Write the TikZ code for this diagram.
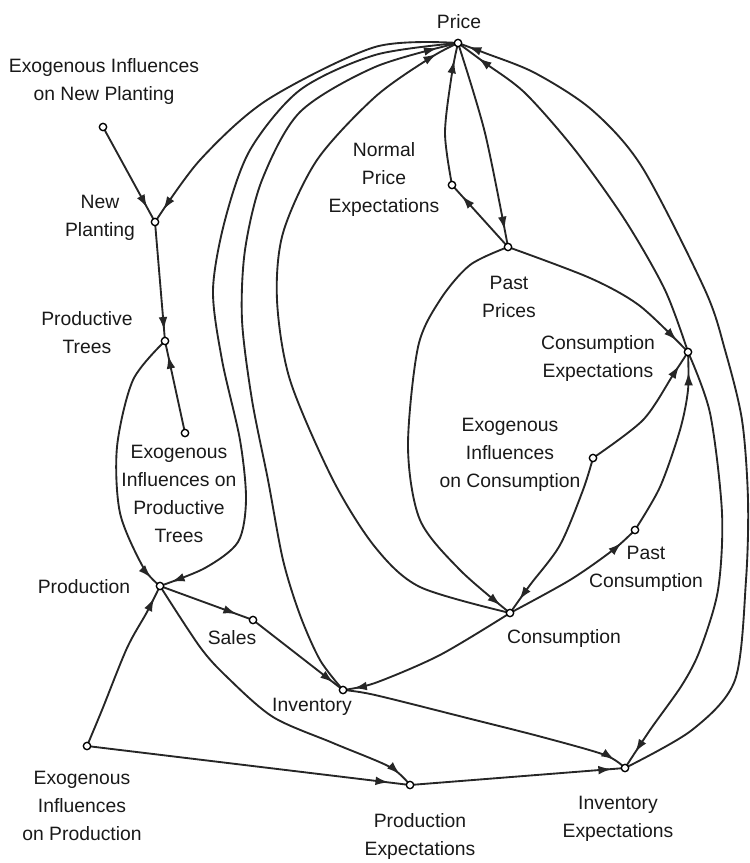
\documentclass[tikz,border=0pt]{standalone}
\usepackage{fontspec}
\setmainfont{Liberation Sans}
\usetikzlibrary{arrows.meta,decorations.markings}
\begin{document}
\begin{tikzpicture}[x=0.75pt,y=-0.75pt,
  edge/.style={line width=1.4pt, black!85},
  arr/.style={postaction={decorate}, decoration={markings, mark=at position #1 with {\arrow{Latex[length=10pt,width=6.5pt]}}}},
  dot/.style={circle, draw, line width=1pt, fill=white, inner sep=0pt, minimum size=5.5pt},
  lbl/.style={font=\fontsize{14.5}{21}\selectfont, align=center, inner sep=0pt, text=black!90},
]
\useasboundingbox (0,0) rectangle (749,863);

% positions of the variables
\coordinate (price) at (458,43);
\coordinate (exonp) at (103,127);
\coordinate (np) at (155,222);
\coordinate (pt) at (165,341);
\coordinate (exopt) at (185,433);
\coordinate (prod) at (160,586);
\coordinate (sales) at (253,620);
\coordinate (inv) at (343,690);
\coordinate (exoprod) at (87,746);
\coordinate (pe) at (410,785);
\coordinate (ie) at (625,768);
\coordinate (cons) at (510,613);
\coordinate (pc) at (635,530);
\coordinate (exocons) at (593,458);
\coordinate (ce) at (688,352);
\coordinate (pp) at (508,247);
\coordinate (npe) at (452,185);

% left part
\draw[edge,arr=-12pt] (exonp) -- (np);
\draw[edge,arr=-11pt] plot[smooth] coordinates {(price) (375,47) (267,100) (200,160) (np)};
\draw[edge,arr=-8pt] (np) -- (pt);
\draw[edge,arr=-11pt] (exopt) -- (pt);
\draw[edge,arr=-9pt] plot[smooth] coordinates {(pt) (133,380) (117,447) (120,513) (143,567) (prod)};
\draw[edge,arr=-9pt] plot[smooth] coordinates {(price) (375,55) (300,90) (250,150) (225,220) (213,290) (222,360) (240,440) (246,500) (238,542) (205,568) (prod)};
\draw[edge,arr=-16pt] plot[smooth] coordinates {(inv) (320,660) (300,615) (283,560) (268,480) (252,400) (242,320) (245,250) (262,180) (300,112) (375,67) (price)};
\draw[edge,arr=-18pt] plot[smooth] coordinates {(cons) (420,587) (375,547) (333,480) (290,380) (277,300) (283,233) (317,160) (375,97) (430,58) (price)};
\draw[edge,arr=-10pt] plot[smooth] coordinates {(exoprod) (102,710) (127,648) (147,612) (prod)};
\draw[edge,arr=-16pt] (exoprod) -- (pe);
\draw[edge,arr=-13pt] (prod) -- (sales);
\draw[edge,arr=-9pt] (sales) -- (inv);
\draw[edge,arr=-11pt] plot[smooth] coordinates {(prod) (200,647) (227,677) (273,717) (333,743) (390,767) (pe)};
\draw[edge,arr=-10pt] plot[smooth] coordinates {(inv) (375,695) (475,720) (542,737) (605,755) (ie)};
\draw[edge,arr=-10pt] (pe) -- (ie);

% price area
\draw[edge,arr=-13pt] plot[smooth] coordinates {(price) (485,133) (pp)};
\draw[edge,arr=-13pt] plot[smooth] coordinates {(npe) (445,133) (452,73) (price)};
\draw[edge,arr=-11pt] (pp) -- (npe);
\draw[edge,arr=-12pt] plot[smooth] coordinates {(pp) (590,278) (640,306) (ce)};
\draw[edge,arr=-9pt] plot[smooth] coordinates {(pp) (470,265) (440,300) (418,347) (408,447) (420,520) (460,570) (cons)};

% consumption area
\draw[edge,arr=-12pt] plot[smooth] coordinates {(exocons) (643,420) (673,375) (ce)};
\draw[edge,arr=-12pt] plot[smooth] coordinates {(exocons) (583,490) (560,545) (530,585) (cons)};
\draw[edge,arr=-15pt] plot[smooth] coordinates {(pc) (660,487) (680,430) (688,390) (ce)};
\draw[edge,arr=-14pt] plot[smooth] coordinates {(cons) (570,580) (613,550) (pc)};
\draw[edge,arr=-8pt] plot[smooth] coordinates {(cons) (440,655) (375,683) (inv)};

% right side
\draw[edge,arr=-19pt] plot[smooth] coordinates {(ce) (665,290) (625,220) (575,150) (525,93) (485,63) (price)};
\draw[edge,arr=-14pt] plot[smooth] coordinates {(ce) (710,413) (722,513) (718,590) (700,650) (682,685) (650,730) (ie)};
\draw[edge,arr=-8pt] plot[smooth] coordinates {(ie) (692,730) (735,680) (746,580) (748,500) (742,420) (725,350) (705,290) (642,167) (592,110) (535,73) (485,53) (price)};

% dots
\foreach \c in {price,exonp,np,pt,exopt,prod,sales,inv,exoprod,pe,ie,cons,pc,exocons,ce,pp,npe}
  \node[dot] (dot-\c) at (\c) {};

% labels
\node[lbl] (l-price) at (459,22) {Price};
\node[lbl] (l-exonp) at (104,82) {Exogenous Influences\\on New Planting};
\node[lbl] (l-np) at (100,218) {New\\Planting};
\node[lbl] (l-pt) at (87,333) {Productive\\Trees};
\node[lbl] (l-exopt) at (179,494) {Exogenous\\Influences on\\Productive\\Trees};
\node[lbl] (l-prod) at (84,587) {Production};
\node[lbl] (l-sales) at (232,638) {Sales};
\node[lbl] (l-inv) at (312,707) {Inventory};
\node[lbl] (l-exoprod) at (82,806) {Exogenous\\Influences\\on Production};
\node[lbl] (l-pe) at (420,836) {Production\\Expectations};
\node[lbl] (l-ie) at (618,819) {Inventory\\Expectations};
\node[lbl] (l-cons) at (564,638) {Consumption};
\node[lbl] (l-pc) at (646,569) {Past\\Consumption};
\node[lbl] (l-exocons) at (510,455) {Exogenous\\Influences\\on Consumption};
\node[lbl] (l-ce) at (598,358) {Consumption\\Expectations};
\node[lbl] (l-pp) at (509,297) {Past\\Prices};
\node[lbl] (l-npe) at (384,180) {Normal\\Price\\Expectations};
\end{tikzpicture}
\end{document}
